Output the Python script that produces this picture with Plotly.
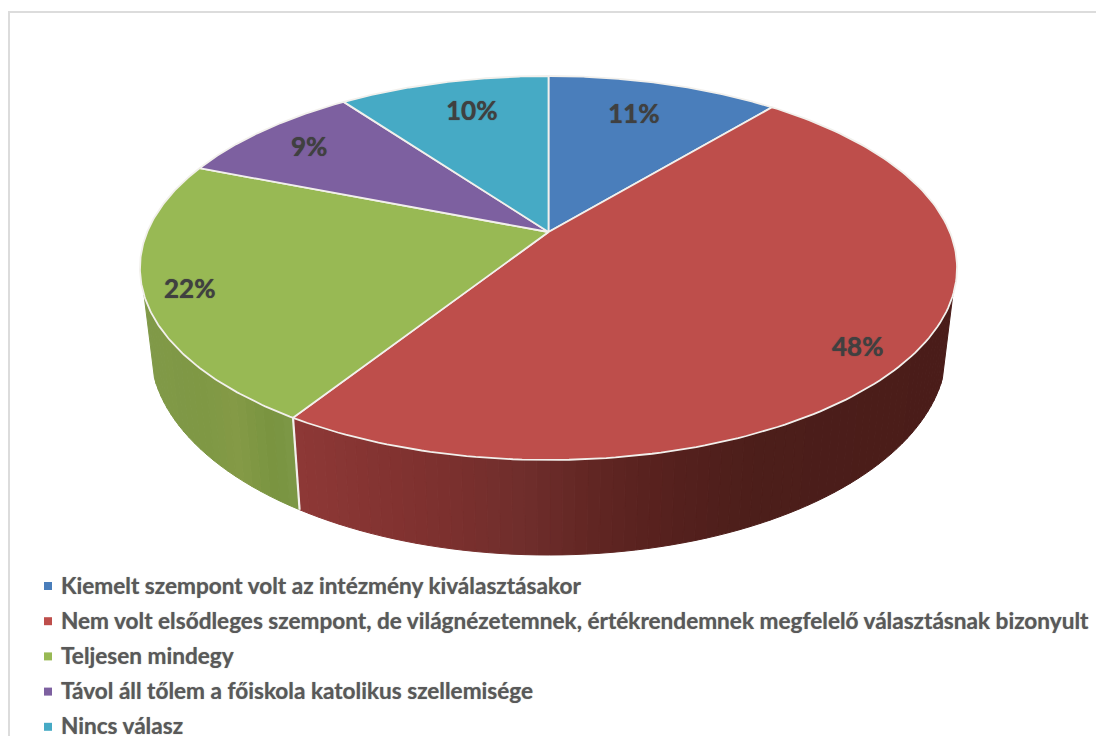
import numpy as np
import plotly.graph_objects as go

categories = [
    "Kiemelt szempont volt az intézmény kiválasztásakor",
    "Nem volt elsődleges szempont, de világnézetemnek, értékrendemnek megfelelő választásnak bizonyult",
    "Teljesen mindegy",
    "Távol áll tőlem a főiskola katolikus szellemisége",
    "Nincs válasz",
]
values = [11, 48, 22, 9, 10]
labels = ["11%", "48%", "22%", "9%", "10%"]
colors = ["#4a7ebb", "#be4e4b", "#98b954", "#7d60a0", "#46aac5"]

# gradient stops of the visible pie wall: (x pixel, colour)
red_wall = [(293, (142, 56, 54)), (440, (124, 48, 46)), (520, (112, 46, 44)), (600, (96, 37, 34)), (680, (84, 32, 29)), (760, (76, 30, 26)), (960, (74, 28, 25))]
green_wall = [(140, (128, 153, 72)), (200, (127, 152, 68)), (232, (132, 154, 70)), (270, (121, 148, 64)), (300, (126, 153, 72))]

# projection of the tilted disc to page pixels
AX, AY = 548.5, 232.0
K, A, B = 0.1875, 401.3, 185.25
CY, RX, RY = 268.0, 408.5, 192.0
BOT_CY, BOT_RX, BOT_RY = 349.0, 398.0, 206.0
WALL_TOP_Y = 295.0


def project(theta):
    u, v = np.sin(theta), np.cos(theta)
    d = 1 + K * v
    return AX + A * u / d, AY - B * v / d


def bottom_of(x, y):
    cp = (x - AX) / RX
    sp = (y - CY) / RY
    return AX + BOT_RX * cp, BOT_CY + BOT_RY * sp


def wall_color(stops, x):
    xs = [s[0] for s in stops]
    rgb = [np.interp(x, xs, [s[1][i] for s in stops]) for i in range(3)]
    return "rgb(%d,%d,%d)" % tuple(int(round(c)) for c in rgb)


fracs = np.array(values, dtype=float) / sum(values)
edges = np.concatenate([[0], np.cumsum(fracs)]) * 2 * np.pi

fig = go.Figure()

# wall: red and green slices are the only ones facing the viewer
for idx, stops, n in [(1, red_wall, 70), (2, green_wall, 24)]:
    th = np.linspace(edges[idx], edges[idx + 1], 400)
    x, y = project(th)
    keep = y >= WALL_TOP_Y
    th = th[keep]
    cuts = np.linspace(th[0], th[-1], n + 1)
    for a, b in zip(cuts[:-1], cuts[1:]):
        t = np.linspace(a, b, 6)
        xt, yt = project(t)
        xb, yb = bottom_of(xt, yt)
        col = wall_color(stops, float(xt.mean()))
        fig.add_trace(go.Scatter(
            x=np.concatenate([xt, xb[::-1], xt[:1]]),
            y=np.concatenate([yt, yb[::-1], yt[:1]]),
            mode="lines", fill="toself", fillcolor=col,
            line=dict(color=col, width=1), hoverinfo="skip", showlegend=False,
        ))

# white seam between red and green on the wall
sx, sy = project(edges[2])
bx, by = bottom_of(sx, sy)
fig.add_trace(go.Scatter(x=[sx, bx], y=[sy, by], mode="lines",
                         line=dict(color="#f2f0ec", width=2.2),
                         hoverinfo="skip", showlegend=False))

# top face
for i, (name, col) in enumerate(zip(categories, colors)):
    th = np.linspace(edges[i], edges[i + 1], 160)
    x, y = project(th)
    fig.add_trace(go.Scatter(
        x=np.concatenate([[AX], x, [AX]]), y=np.concatenate([[AY], y, [AY]]),
        mode="lines", fill="toself", fillcolor=col,
        line=dict(color="#f2f0ec", width=1.8), name=name,
        hovertemplate=name + ": " + labels[i] + "<extra></extra>", showlegend=False,
    ))

# percentage labels
label_xy = [(633, 112.5), (857, 346), (189, 288), (309, 146), (471, 110)]
for (lx, ly), txt in zip(label_xy, labels):
    fig.add_annotation(x=lx, y=ly, text="<b>%s</b>" % txt, showarrow=False,
                       font=dict(family="Lato", size=26, color="#404040",
                                 shadow="0 0 1px #404040"))

# legend
LEG_Y0, LEG_STEP = 585.0, 35.2
fig.add_trace(go.Scatter(
    x=[48] * len(categories), y=[586.0 + LEG_STEP * i for i in range(len(categories))],
    mode="markers", marker=dict(symbol="square", size=8, color=colors, line=dict(width=0)),
    hoverinfo="skip", showlegend=False,
))
for i, name in enumerate(categories):
    fig.add_annotation(x=58.5, y=LEG_Y0 + LEG_STEP * i, text="<b>%s</b>" % name, showarrow=False,
                       xanchor="left", yanchor="middle",
                       font=dict(family="Lato", size=22.6, color="#595959",
                                 shadow="0 0 1px #59595999"))

# outer frame (only left and top edges are in the crop)
fig.add_shape(type="line", x0=9, y0=12, x1=9, y1=736, line=dict(color="#dcdcdc", width=2))
fig.add_shape(type="line", x0=8, y0=12, x1=1096, y1=12, line=dict(color="#dcdcdc", width=2))

fig.update_layout(
    width=1096, height=736, margin=dict(l=0, r=0, t=0, b=0),
    paper_bgcolor="white", plot_bgcolor="white", showlegend=False,
    xaxis=dict(range=[0, 1096], visible=False, fixedrange=True),
    yaxis=dict(range=[736, 0], visible=False, fixedrange=True),
)
fig.write_html("out.html", config=dict(displayModeBar=False),
               post_script="document.body.style.margin='0';document.body.style.overflow='hidden';")
